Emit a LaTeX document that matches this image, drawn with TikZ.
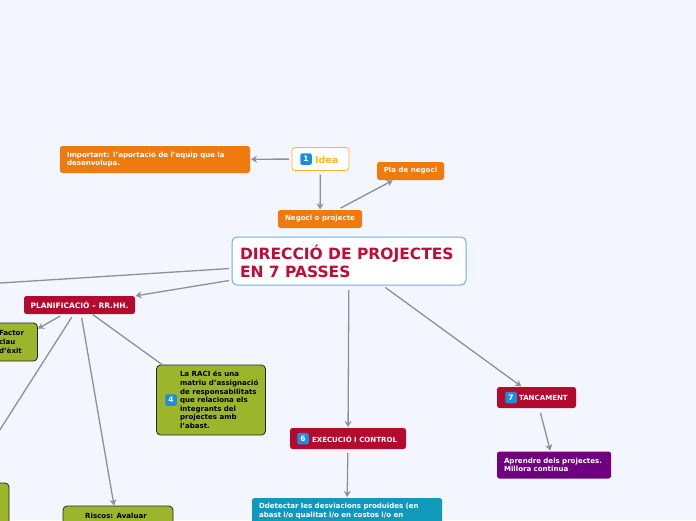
\documentclass[tikz,border=0pt]{standalone}
\usepackage{fontspec}
\setmainfont{DejaVu Sans}
\usetikzlibrary{arrows.meta}
\definecolor{bgc}{HTML}{F3F6FF}
\definecolor{orangec}{HTML}{EF7A0D}
\definecolor{redc}{HTML}{B30B2E}
\definecolor{titlec}{HTML}{C00D35}
\definecolor{greenc}{HTML}{9DB52B}
\definecolor{tealc}{HTML}{1199BB}
\definecolor{purplec}{HTML}{6F0080}
\definecolor{linec}{HTML}{8E9099}
\definecolor{bluec}{HTML}{6AAEEF}
\definecolor{yelc}{HTML}{FFB81C}
\definecolor{badgec}{HTML}{1A8FE0}
\tikzset{
  x=1pt,y=-1pt,
  boxn/.style={rectangle,rounded corners=2.5pt,inner xsep=0pt,inner ysep=0pt,outer sep=0pt,align=left,
     font=\bfseries\fontsize{7.05}{8.6}\selectfont,text=white},
  orangeb/.style={boxn,fill=orangec},
  redb/.style={boxn,fill=redc},
  tealb/.style={boxn,fill=tealc},
  purpleb/.style={boxn,fill=purplec},
  greenb/.style={boxn,fill=greenc,draw=black!85,line width=0.8pt,rounded corners=4pt,text=black},
  conn/.style={draw=linec,line width=1.3pt,-{Stealth[length=6pt,width=7pt]}},
  plainconn/.style={draw=linec,line width=1.3pt},
  badge/.style={rectangle,rounded corners=1.5pt,fill=badgec,text=white,minimum size=11.5pt,inner sep=0pt,
     font=\bfseries\fontsize{7.5}{7.5}\selectfont},
  lab/.style={inner sep=0pt,outer sep=0pt,align=left,anchor=west,font=\bfseries\fontsize{7.05}{8.6}\selectfont},
}
\begin{document}
\begin{tikzpicture}
\useasboundingbox (0,0) rectangle (696,520);
\clip (0,0) rectangle (696,520);
\fill[bgc] (0,0) rectangle (696,520);

% nodes
\node[rectangle,rounded corners=5pt,fill=white,draw=bluec,line width=1pt,minimum width=234pt,minimum height=48pt,inner sep=0pt,outer sep=0pt] (central) at (349,261) {};
\node[lab,text=titlec,font=\bfseries\fontsize{15.5}{18}\selectfont,anchor=west] (title) at (240,261.5) {DIRECCIÓ DE PROJECTES\\EN 7 PASSES};

\node[rectangle,rounded corners=3pt,fill=white,draw=yelc,line width=0.8pt,minimum width=57pt,minimum height=23pt,inner sep=0pt,outer sep=0pt] (idea) at (320.5,159) {};
\node[badge] (b1) at (306,159) {1};
\node[lab,text=yelc,font=\bfseries\fontsize{9.5}{11}\selectfont] (idealab) at (315,159.5) {Idea};

\node[orangeb,minimum width=190pt,minimum height=27pt,text width=176pt] (imp) at (155,159.5) {Important: l'aportació de l'equip que la\\desenvolupa.};
\node[orangeb,minimum width=84pt,minimum height=18pt,align=center] (neg) at (320,219) {Negoci o projecte};
\node[orangeb,minimum width=67pt,minimum height=18pt,align=center] (pla) at (410.5,171) {Pla de negoci};

\node[redb,minimum width=111pt,minimum height=18pt,align=center,font=\bfseries\fontsize{7.5}{8.6}\selectfont] (plan) at (79.5,305) {PLANIFICACIÓ – RR.HH.};
\node[redb,minimum width=116pt,minimum height=21pt] (exec) at (348,438.5) {};
\node[badge] (b6) at (303,438.5) {6};
\node[lab,text=white] (execlab) at (312,439) {EXECUCIÓ I CONTROL};
\node[redb,minimum width=79pt,minimum height=21pt] (tanc) at (536.5,397.5) {};
\node[badge] (b7) at (511,397.5) {7};
\node[lab,text=white] (tanclab) at (519,398) {TANCAMENT};
\node[purpleb,minimum width=114pt,minimum height=27pt,text width=100pt] (apr) at (554,465) {Aprendre dels projectes.\\Millora continua};
\node[tealb,minimum width=190pt,minimum height=26pt,text width=176pt] (ddet) at (347,511) {Ddetectar les desviacions produïdes (en\\abast i/o qualitat i/o en costos i/o en};

\node[greenb,minimum width=46pt,minimum height=38pt] (factor) at (14.5,342) {};
\node[lab,text=black] (factorlab) at (-1,342) {Factor\\clau\\d'èxit};
\node[greenb,minimum width=114pt,minimum height=44pt] (left) at (-48,505) {};
\node[greenb,minimum width=109pt,minimum height=70pt] (raci) at (211,400) {};
\node[badge] (b4) at (171,400) {4};
\node[lab,text=black] (racilab) at (180,400) {La RACI és una\\matriu d'assignació\\de responsabilitats\\que relaciona els\\integrants del\\projectes amb\\l'abast.};
\node[greenb,minimum width=110pt,minimum height=40pt,anchor=north] (riscos) at (118,506) {};
\node[lab,text=black,anchor=center] (riscoslab) at (116,515.5) {Riscos: Avaluar};

\coordinate (offleft) at (-20,284.3);
\coordinate (riscostop) at (114,505.5);

% connectors
\draw[conn,shorten <=3pt,shorten >=1pt] (idea) -- (imp);
\draw[conn,shorten <=4pt,shorten >=0.5pt] (idea) -- (neg);
\draw[conn,shorten <=4pt,shorten >=1pt] (neg) -- (pla);
\draw[plainconn,shorten <=3pt] (central) -- (offleft);
\draw[conn,shorten <=3pt,shorten >=1pt] (central) -- (plan);
\draw[conn,shorten <=5pt,shorten >=1pt] (central) -- (exec);
\draw[conn,shorten <=4pt,shorten >=1pt] (central) -- (tanc);
\draw[conn,shorten <=4pt,shorten >=1pt] (exec) -- (ddet);
\draw[conn,shorten <=5pt,shorten >=1pt] (tanc) -- (apr);
\draw[conn,shorten <=4pt,shorten >=0.5pt] (plan) -- (factor);
\draw[plainconn,shorten <=4pt] (plan) -- (left);
\draw[conn,shorten <=4pt] (plan) -- (riscostop);
\draw[plainconn,shorten <=1pt] (plan) -- (raci);
\end{tikzpicture}
\end{document}
